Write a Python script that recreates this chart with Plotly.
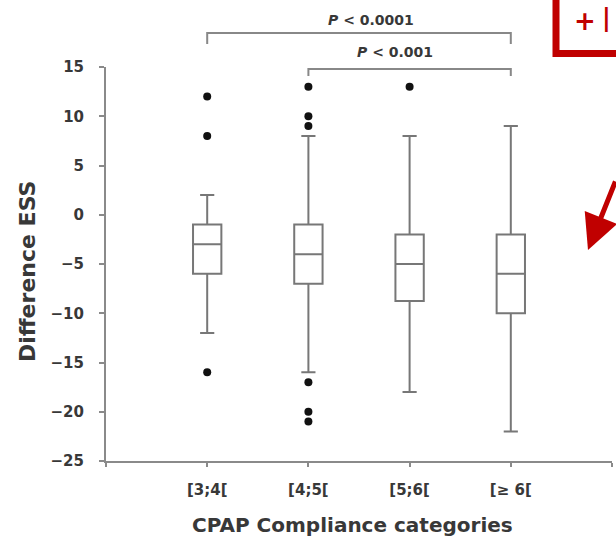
import plotly.graph_objects as go

# ---- data ----
categories = ["[3;4[", "[4;5[", "[5;6[", "[≥ 6["]
cat_pos = [1, 2, 3, 4]
q1 = [-6, -7, -8.75, -10]
median = [-3, -4, -5, -6]
q3 = [-1, -1, -2, -2]
lower_fence = [-12, -16, -18, -22]
upper_fence = [2, 8, 8, 9]
outlier_x = [1, 1, 1, 2, 2, 2, 2, 2, 2, 3]
outlier_y = [12, 8, -16, 13, 10, 9, -17, -20, -21, 13]
y_ticks = [15, 10, 5, 0, -5, -10, -15, -20, -25]
p_labels = ["<i>P</i> < 0.0001", "<i>P</i> < 0.001"]
bracket_from = [1, 2]
bracket_to = [4, 4]

FONT = "DejaVu Sans"
TXT = "#383838"
GRAY = "#777777"
RED = "#c00000"

W, H = 616, 548
L, R, T, B = 106, 4, 67, 87
pw, ph = W - L - R, H - T - B
XMAX = 5


def px_x(px):
    return (px - L) / pw


def px_y(py):
    return (H - B - py) / ph


fig = go.Figure()
fig.add_trace(go.Box(
    x=cat_pos, q1=q1, median=median, q3=q3,
    lowerfence=lower_fence, upperfence=upper_fence,
    width=0.28, whiskerwidth=0.5, boxpoints=False,
    fillcolor="white", line=dict(color=GRAY, width=2),
    showlegend=False, hoverinfo="skip",
))
fig.add_trace(go.Scatter(
    x=outlier_x, y=outlier_y, mode="markers",
    marker=dict(color="#111111", size=8),
    showlegend=False, hoverinfo="skip",
))

shapes = []
annotations = []
# significance brackets
bracket_top_px = [33, 69]
bracket_leg_px = [44, 76]
text_px = [20, 52]
text_x = [2.62, 2.86]
for i in range(len(p_labels)):
    xa = bracket_from[i] / XMAX
    xb = bracket_to[i] / XMAX
    yt = px_y(bracket_top_px[i])
    yl = px_y(bracket_leg_px[i])
    shapes.append(dict(type="path", xref="paper", yref="paper",
                       path=f"M {xa} {yl} L {xa} {yt} L {xb} {yt} L {xb} {yl}",
                       line=dict(color="#888888", width=2)))
    annotations.append(dict(text=f"<b>{p_labels[i]}</b>", xref="paper", yref="paper",
                            x=text_x[i] / XMAX, y=px_y(text_px[i]),
                            showarrow=False, xanchor="center", yanchor="middle",
                            font=dict(family=FONT, size=14, color=TXT)))

# axis titles
annotations.append(dict(text="<b>CPAP Compliance categories</b>", xref="paper", yref="paper",
                        x=px_x(352), y=px_y(525), showarrow=False,
                        xanchor="center", yanchor="middle",
                        font=dict(family=FONT, size=20, color=TXT)))
annotations.append(dict(text="<b>Difference ESS</b>", xref="paper", yref="paper",
                        x=px_x(27), y=px_y(272), showarrow=False, textangle=-90,
                        xanchor="center", yanchor="middle",
                        font=dict(family=FONT, size=22, color=TXT)))

# red overlay frame, symbol and arrow
shapes.append(dict(type="rect", xref="paper", yref="paper",
                   x0=px_x(556), x1=px_x(660), y0=px_y(53.5), y1=px_y(-30),
                   line=dict(color=RED, width=7), fillcolor="rgba(0,0,0,0)"))
annotations.append(dict(text="<b>+</b>", xref="paper", yref="paper",
                        x=px_x(585), y=px_y(21), showarrow=False,
                        xanchor="center", yanchor="middle",
                        font=dict(family=FONT, size=26, color=RED)))
annotations.append(dict(text="<b>|</b>", xref="paper", yref="paper",
                        x=px_x(606), y=px_y(18), showarrow=False,
                        xanchor="center", yanchor="middle",
                        font=dict(family=FONT, size=24, color=RED)))
annotations.append(dict(text="", xref="paper", yref="paper",
                        x=px_x(588), y=px_y(250), ax=36, ay=-70,
                        showarrow=True, arrowhead=2, arrowsize=1.4, arrowwidth=5,
                        arrowcolor=RED))

fig.update_layout(
    width=W, height=H,
    margin=dict(l=L, r=R, t=T, b=B),
    paper_bgcolor="white", plot_bgcolor="white",
    shapes=shapes, annotations=annotations,
    xaxis=dict(range=[0, XMAX], tickvals=[0] + cat_pos + [5],
               ticktext=[""] + categories + [""],
               showgrid=False, zeroline=False, showline=True,
               linecolor="#8a8a8a", linewidth=2,
               ticks="outside", ticklen=4, tickcolor="#8a8a8a", tickwidth=1.5,
               ticklabelstandoff=10,
               tickfont=dict(family=FONT, size=15, color=TXT, weight="bold")),
    yaxis=dict(range=[-25, 15], tickvals=y_ticks,
               showgrid=False, zeroline=False, showline=True,
               linecolor="#8a8a8a", linewidth=2,
               ticks="outside", ticklen=5, tickcolor="#8a8a8a", tickwidth=1.5,
               ticklabelstandoff=12,
               tickfont=dict(family=FONT, size=15, color=TXT, weight="bold")),
)

fig.write_html("out.html")
